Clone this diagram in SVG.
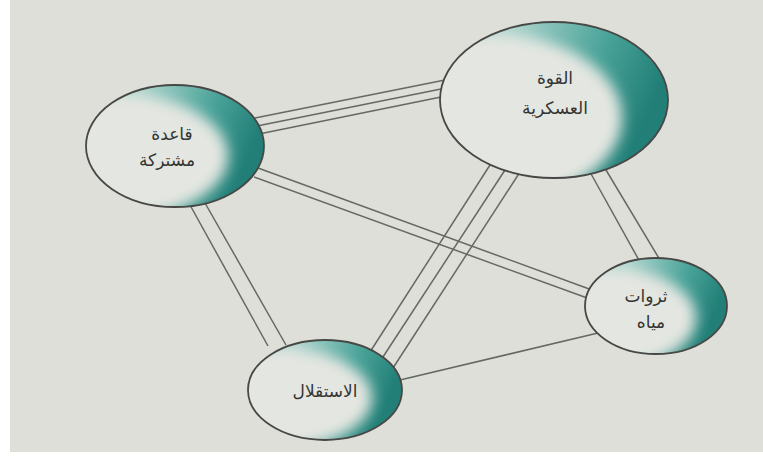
<svg xmlns="http://www.w3.org/2000/svg" width="763" height="469" viewBox="0 0 763 469">
<defs>
<style>
.c{stroke:#666863;stroke-width:1.5;fill:none}
.n{stroke:#474846;stroke-width:1.8;fill:none}
.w{fill:#e4e6e1;filter:url(#bl)}
.t{font-family:"DejaVu Sans","Noto Sans",sans-serif;font-size:17px;fill:#343532;text-anchor:middle}
</style>
<filter id="bl" x="-20%" y="-20%" width="140%" height="140%"><feGaussianBlur stdDeviation="7"/></filter>
<linearGradient id="tg" x1="0" y1="0" x2="1" y2="0.3">
<stop offset="0.3" stop-color="#a9d3cb"/>
<stop offset="0.7" stop-color="#4aa399"/>
<stop offset="1" stop-color="#217f77"/>
</linearGradient>
<clipPath id="k1"><ellipse cx="554" cy="100" rx="114" ry="78"/></clipPath>
<clipPath id="k2"><ellipse cx="175" cy="146" rx="89" ry="61"/></clipPath>
<clipPath id="k3"><ellipse cx="325" cy="390" rx="77" ry="50"/></clipPath>
<clipPath id="k4"><ellipse cx="656" cy="306" rx="71" ry="48"/></clipPath>
</defs>
<rect width="763" height="469" fill="#ffffff"/>
<rect x="10" y="0" width="753" height="452" fill="#dedfd9"/>
<g id="connectors" class="c">
<line x1="255" y1="118" x2="445" y2="80"/>
<line x1="257" y1="126" x2="446" y2="88"/>
<line x1="259" y1="134" x2="446" y2="96"/>
<line x1="258" y1="168" x2="592" y2="290"/>
<line x1="254" y1="177" x2="590" y2="299"/>
<line x1="190" y1="205" x2="268" y2="346"/>
<line x1="205" y1="203" x2="286" y2="345"/>
<line x1="490" y1="165" x2="370" y2="352"/>
<line x1="505" y1="170" x2="381" y2="360"/>
<line x1="520" y1="172" x2="393" y2="368"/>
<line x1="590" y1="172" x2="640" y2="262"/>
<line x1="606" y1="170" x2="660" y2="260"/>
<line x1="400" y1="380" x2="598" y2="333"/>
</g>
<g id="node-top">
<g clip-path="url(#k1)">
<ellipse cx="554" cy="100" rx="114" ry="78" fill="url(#tg)"/>
<ellipse class="w" cx="492" cy="118" rx="130" ry="84"/>
</g>
<ellipse cx="554" cy="100" rx="114" ry="78" class="n"/>
<text class="t" x="555" y="84">القوة</text>
<text class="t" x="555" y="114">العسكرية</text>
</g>
<g id="node-left">
<g clip-path="url(#k2)">
<ellipse cx="175" cy="146" rx="89" ry="61" fill="url(#tg)"/>
<ellipse class="w" cx="120" cy="156" rx="108" ry="62"/>
</g>
<ellipse cx="175" cy="146" rx="89" ry="61" class="n"/>
<text class="t" x="172" y="140">قاعدة</text>
<text class="t" x="167" y="166">مشتركة</text>
</g>
<g id="node-bottom">
<g clip-path="url(#k3)">
<ellipse cx="325" cy="390" rx="77" ry="50" fill="url(#tg)"/>
<ellipse class="w" cx="280" cy="398" rx="92" ry="50"/>
</g>
<ellipse cx="325" cy="390" rx="77" ry="50" class="n"/>
<text class="t" x="325" y="397">الاستقلال</text>
</g>
<g id="node-right">
<g clip-path="url(#k4)">
<ellipse cx="656" cy="306" rx="71" ry="48" fill="url(#tg)"/>
<ellipse class="w" cx="610" cy="318" rx="86" ry="50"/>
</g>
<ellipse cx="656" cy="306" rx="71" ry="48" class="n"/>
<text class="t" x="646" y="302">ثروات</text>
<text class="t" x="651" y="328">مياه</text>
</g>
</svg>
